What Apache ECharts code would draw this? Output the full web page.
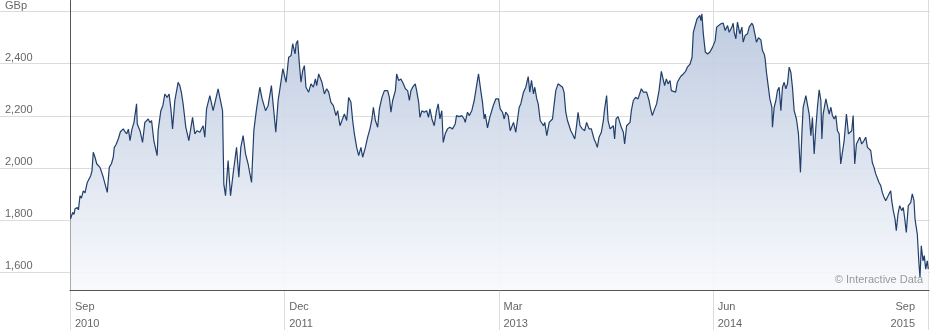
<!DOCTYPE html>
<html><head><meta charset="utf-8">
<script src="https://cdn.jsdelivr.net/npm/echarts@6/dist/echarts.min.js"></script>
<style>html,body{margin:0;padding:0;background:#fff}#c{width:930px;height:330px}</style>
</head><body><div id="c"></div>
<script>
// months since Sep 2010
const months = [
0.03,0.19,0.28,0.35,0.51,0.59,0.70,0.80,0.93,1.05,
1.21,1.33,1.45,1.54,1.63,1.75,1.87,1.98,2.10,2.22,
2.33,2.45,2.61,2.75,2.90,3.03,3.10,3.22,3.38,3.53,
3.73,3.85,3.97,4.09,4.20,4.34,4.48,4.66,4.71,4.90,
5.08,5.24,5.48,5.59,5.71,5.87,6.10,6.17,6.36,6.50,
6.64,6.80,6.94,7.06,7.18,7.34,7.57,7.69,7.80,7.92,
8.11,8.32,8.58,8.74,8.90,9.09,9.32,9.44,9.56,9.79,
10.02,10.14,10.37,10.49,10.68,10.77,10.89,11.07,11.24,11.42,
11.66,11.82,11.96,12.12,12.29,12.47,12.71,12.87,13.06,13.29,
13.45,13.69,13.87,14.10,14.22,14.41,14.57,14.73,14.90,15.01,
15.13,15.31,15.48,15.59,15.76,15.83,15.94,16.06,16.17,16.29,
16.41,16.52,16.71,16.87,17.04,17.18,17.27,17.41,17.64,17.81,
17.97,18.11,18.27,18.44,18.62,18.74,18.90,19.04,19.21,19.37,
19.51,19.67,19.79,19.91,20.07,20.21,20.37,20.49,20.68,20.84,
21.00,21.14,21.24,21.38,21.54,21.66,21.84,22.01,22.24,22.36,
22.47,22.59,22.78,22.87,23.01,23.17,23.34,23.48,23.64,23.76,
23.87,23.99,24.17,24.27,24.41,24.50,24.64,24.80,24.97,25.10,
25.20,25.34,25.50,25.66,25.78,25.90,26.03,26.13,26.27,26.43,
26.59,26.78,26.97,27.06,27.25,27.43,27.60,27.67,27.83,27.95,
28.13,28.30,28.41,28.60,28.76,28.88,29.00,29.07,29.23,29.39,
29.53,29.63,29.81,30.00,30.12,30.28,30.40,30.51,30.68,30.82,
30.91,31.05,31.21,31.33,31.45,31.56,31.75,31.91,32.08,32.19,
32.31,32.45,32.54,32.68,32.78,32.92,33.01,33.15,33.24,33.38,
33.55,33.66,33.78,33.90,34.01,34.17,34.31,34.48,34.59,34.71,
34.83,34.94,35.06,35.17,35.34,35.48,35.57,35.71,35.87,36.03,
36.17,36.34,36.50,36.69,36.80,36.92,37.04,37.20,37.34,37.43,
37.57,37.67,37.81,37.90,38.04,38.13,38.23,38.37,38.51,38.60,
38.74,38.83,38.97,39.07,39.21,39.30,39.44,39.60,39.77,39.91,
40.00,40.14,40.23,40.37,40.54,40.65,40.77,40.89,41.07,41.24,
41.40,41.52,41.63,41.75,41.87,42.01,42.10,42.24,42.40,42.52,
42.64,42.75,42.94,43.10,43.22,43.41,43.55,43.64,43.78,43.90,
44.01,44.10,44.17,44.24,44.34,44.48,44.64,44.80,44.99,45.17,
45.27,45.41,45.57,45.73,45.87,46.04,46.15,46.34,46.43,46.50,
46.62,46.73,46.80,46.90,47.04,47.13,47.27,47.43,47.55,47.74,
47.83,47.97,48.06,48.20,48.37,48.48,48.60,48.67,48.76,48.90,
49.00,49.14,49.18,49.30,49.42,49.53,49.65,49.77,49.88,50.00,
50.12,50.23,50.35,50.47,50.58,50.70,50.86,51.00,51.14,51.24,
51.33,51.52,51.66,51.75,51.87,51.98,52.10,52.22,52.33,52.45,
52.57,52.64,52.73,52.92,53.03,53.15,53.27,53.38,53.50,53.62,
53.73,53.85,53.96,54.08,54.20,54.36,54.50,54.59,54.73,54.83,
54.94,55.06,55.20,55.29,55.43,55.59,55.71,55.83,55.94,56.06,
56.17,56.29,56.41,56.52,56.64,56.76,56.87,56.99,57.11,57.22,
57.34,57.46,57.53,57.64,57.76,57.85,57.97,58.09,58.23,58.34,
58.46,58.55,58.69,58.86,58.97,59.09,59.16,59.25,59.32,59.44,
59.51,59.60,59.72,59.81,59.91,60.02,60.09
];
// price, GBp
const prices = [
1805,1830,1822,1844,1849,1840,1894,1885,1913,1905,
1945,1940,1971,1990,2061,2042,2017,2010,2003,2010,
1965,1940,1907,2003,2017,2042,2080,2090,2112,2140,
2151,2140,2132,2150,2106,2150,2176,2247,2170,2144,
2099,2176,2189,2175,2183,2106,2048,2144,2221,2240,
2285,2272,2285,2230,2151,2260,2330,2317,2290,2247,
2157,2106,2195,2132,2144,2138,2163,2119,2228,2279,
2221,2228,2305,2272,2221,1939,1894,2029,1894,1978,
2080,1965,2080,2125,2055,2016,1945,2144,2228,2311,
2266,2221,2240,2317,2247,2138,2260,2317,2382,2388,
2330,2426,2433,2478,2439,2478,2490,2400,2330,2375,
2394,2311,2292,2324,2311,2343,2317,2362,2330,2285,
2305,2292,2253,2240,2202,2221,2163,2183,2208,2183,
2272,2253,2183,2132,2080,2048,2080,2042,2080,2119,
2151,2189,2234,2183,2157,2228,2272,2298,2298,2272,
2215,2260,2298,2362,2337,2343,2324,2305,2298,2260,
2298,2311,2324,2298,2253,2195,2221,2215,2221,2195,
2228,2189,2163,2221,2247,2189,2221,2099,2132,2151,
2157,2151,2170,2202,2198,2202,2189,2176,2215,2202,
2221,2260,2298,2362,2298,2253,2189,2208,2155,2195,
2189,2240,2266,2266,2228,2215,2189,2215,2202,2144,
2138,2176,2138,2144,2234,2247,2292,2311,2352,2292,
2337,2285,2311,2266,2247,2183,2189,2163,2176,2125,
2176,2183,2189,2247,2298,2324,2324,2311,2292,2215,
2183,2183,2144,2132,2112,2170,2215,2163,2151,2144,
2176,2151,2151,2112,2099,2080,2119,2138,2183,2228,
2279,2183,2151,2144,2163,2112,2189,2198,2202,2157,
2138,2093,2163,2170,2176,2221,2260,2272,2266,2260,
2305,2292,2285,2292,2260,2228,2202,2221,2247,2298,
2372,2368,2317,2343,2324,2337,2298,2292,2292,2330,
2330,2352,2362,2372,2388,2400,2426,2522,2529,2574,
2567,2587,2567,2593,2516,2446,2439,2446,2465,2490,
2542,2548,2555,2557,2529,2548,2522,2542,2557,2522,
2497,2561,2567,2516,2542,2484,2510,2516,2542,2557,
2548,2510,2484,2501,2493,2452,2439,2420,2368,2362,
2266,2234,2157,2234,2260,2298,2311,2221,2311,2330,
2305,2324,2388,2368,2311,2221,2189,2132,1984,2132,
2234,2279,2285,2208,2125,2195,2055,2157,2234,2301,
2260,2112,2208,2266,2260,2208,2234,2202,2189,2202,
2144,2132,2016,2016,2106,2208,2132,2125,2144,2202,
2016,2093,2093,2119,2093,2106,2119,2080,2087,2068,
2022,2003,1978,1971,1945,1933,1907,1888,1875,1875,
1901,1913,1875,1837,1805,1760,1824,1856,1837,1849,
1798,1753,1856,1868,1901,1875,1805,1798,1747,1631,
1580,1702,1644,1664,1612,1644,1612
];
const xTickMonths = [0, 15, 30, 45, 60];
const xTickLabels = ['Sep\n2010', 'Dec\n2011', 'Mar\n2013', 'Jun\n2014', 'Sep\n2015'];
const yTickValues = [1600, 1800, 2000, 2200, 2400, 2600];
const yTickLabels = ['1,600', '1,800', '2,000', '2,200', '2,400', 'GBp'];
const sourceNote = '© Interactive Data';

// layout
const W = 930, H = 330, plotLeft = 70, plotBottom = 40;
const xMax = 60.14, yMax = 2644, yMin = 1532;
const pxPerMonth = (W - plotLeft) / xMax;
const pxPerUnit = (H - plotBottom) / (yMax - yMin);
const xMinFull = -plotLeft / pxPerMonth;
const yMinFull = yMax - H / pxPerUnit;
const FONT = '"Liberation Sans", Arial, sans-serif';
const gridColor = '#dcdcdc';

const chart = echarts.init(document.getElementById('c'), null, {renderer: 'canvas'});
const lbl = (v) => {
  const i = xTickMonths.indexOf(v);
  if (i < 0) return '';
  const parts = xTickLabels[i].split('\n');
  const key = i === xTickLabels.length - 1 ? 'r' : 'l';
  return parts.map(p => '{' + key + '|' + p + '}').join('\n');
};
const richBase = {fontSize: 11, color: '#666', lineHeight: 17, fontFamily: FONT};
chart.setOption({
  animation: false,
  backgroundColor: '#fff',
  title: {
    text: sourceNote, right: 7, top: 274, padding: 0,
    textStyle: {fontSize: 11, color: '#999', fontWeight: 'normal', fontFamily: FONT}
  },
  grid: [
    {left: 0, right: 0, top: 0, bottom: 0},
    {left: plotLeft, right: 0, top: 0, bottom: plotBottom}
  ],
  xAxis: [
    {gridIndex: 0, type: 'value', min: xMinFull, max: xMax,
      axisLine: {show: false}, axisTick: {show: false, customValues: xTickMonths},
      axisLabel: {show: false},
      splitLine: {show: true, lineStyle: {color: gridColor, width: 1}}},
    {gridIndex: 1, type: 'value', min: 0, max: xMax,
      axisLine: {show: true, onZero: false, lineStyle: {color: '#555', width: 1}},
      axisTick: {show: false}, splitLine: {show: false},
      axisLabel: {customValues: xTickMonths, interval: 0, formatter: lbl,
        align: 'left', alignMinLabel: 'left', alignMaxLabel: 'right',
        verticalAlign: 'top', margin: 8,
        rich: {l: Object.assign({padding: [0, 0, 0, 5]}, richBase),
               r: Object.assign({padding: [0, 12, 0, 0]}, richBase)}}}
  ],
  yAxis: [
    {gridIndex: 0, type: 'value', min: yMinFull, max: yMax,
      axisLine: {show: false}, axisTick: {show: false, customValues: yTickValues},
      axisLabel: {show: false},
      splitLine: {show: true, lineStyle: {color: gridColor, width: 1}}},
    {gridIndex: 1, type: 'value', min: yMin, max: yMax,
      axisLine: {show: true, onZero: false, lineStyle: {color: '#555', width: 1}},
      axisTick: {show: false}, splitLine: {show: false},
      axisLabel: {customValues: yTickValues,
        formatter: (v) => { const i = yTickValues.indexOf(v); return i < 0 ? '' : yTickLabels[i]; },
        align: 'left', verticalAlign: 'bottom', margin: 65, padding: [0, 0, 1, 0],
        fontSize: 11, color: '#666', fontFamily: FONT}}
  ],
  series: [{
    type: 'line', xAxisIndex: 1, yAxisIndex: 1,
    data: months.map((m, i) => [m, prices[i]]),
    showSymbol: false, symbol: 'none',
    lineStyle: {color: '#213f6a', width: 1.2},
    areaStyle: {origin: 'start', opacity: 0.92,
      color: new echarts.graphic.LinearGradient(0, 0, 0, 1, [
        {offset: 0, color: '#b9c7de'}, {offset: 1, color: '#f8f9fc'}])}
  }]
});
</script>
</body></html>
